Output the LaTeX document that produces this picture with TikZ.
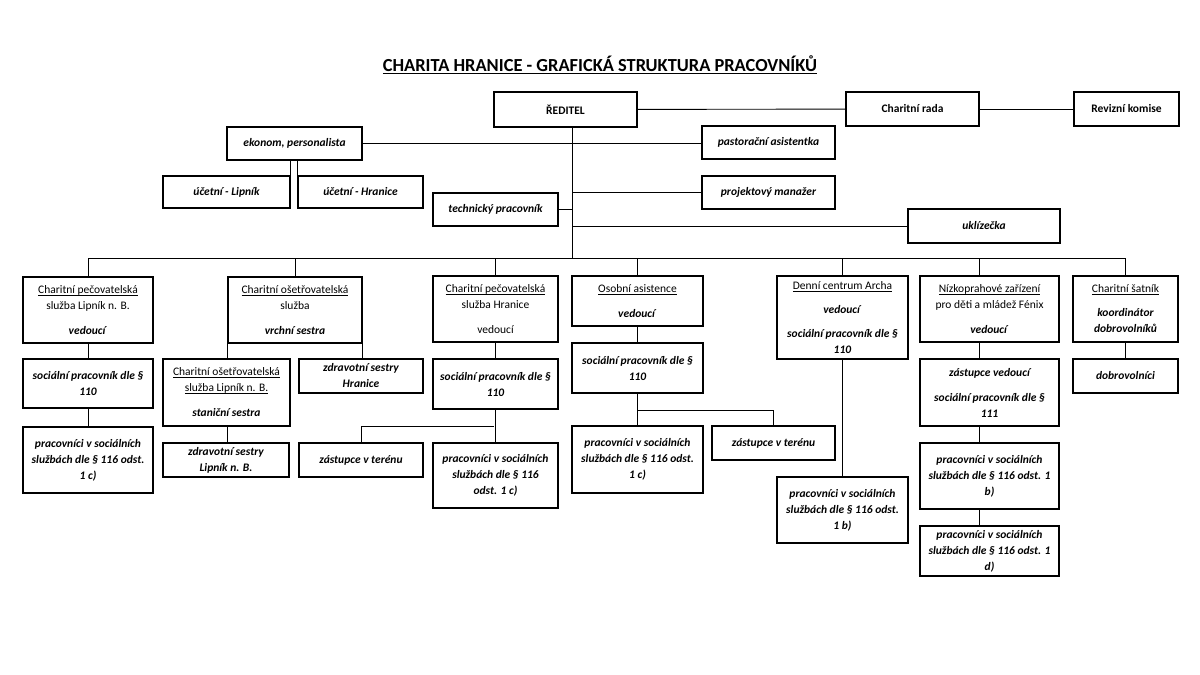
\documentclass[tikz,border=0pt]{standalone}
\usepackage{fontspec}
\setmainfont{Carlito}
\newcommand{\roletext}[1]{\textbf{\textit{#1}}}
\newcommand{\headline}[1]{\setbox0\hbox{#1}\rlap{\rule[-0.16em]{\wd0}{0.055em}}\box0}
\tikzset{
  box/.style={draw, line width=1.3pt, align=center, inner sep=1pt,
    font=\fontsize{11.5}{16}\selectfont},
  role/.style={box, font=\fontsize{11.5}{16}\selectfont\bfseries\itshape},
  wh/.style 2 args={minimum width=#1pt, minimum height=#2pt},
  link/.style={line width=0.9pt},
}
\begin{document}
\begin{tikzpicture}[x=1pt,y=-1pt]
  \useasboundingbox (0,0) rectangle (1200,675);

  \node[font=\fontsize{18.4}{22}\selectfont\bfseries] (title) at (600,65)
    {\headline{CHARITA HRANICE - GRAFICKÁ STRUKTURA PRACOVNÍKŮ}};

  % vedeni
  \node[box, wh={143}{35}] (reditel) at (565.5,109.5) {\textbf{ŘEDITEL}};
  \node[box, wh={133}{34}] (rada)    at (912.5,109)   {\textbf{Charitní rada}};
  \node[box, wh={105}{34}] (revize)  at (1126.5,109)  {\textbf{Revizní komise}};

  \begin{scope}[every node/.style={role}]
    \node[wh={135}{33}] (ekonom)  at (294.5,143.5) {ekonom, personalista};
    \node[wh={133}{33}] (pastor)  at (768.5,142.5) {pastorační asistentka};
    \node[wh={127}{32}] (uctL)    at (226.5,192)   {účetní - Lipník};
    \node[wh={125}{32}] (uctH)    at (360.5,192)   {účetní - Hranice};
    \node[wh={133}{33}] (projekt) at (768.5,192.5) {projektový manažer};
    \node[wh={125}{33}] (tech)    at (495.5,209.5) {technický pracovník};
    \node[wh={152}{34}] (uklid)   at (984,226)     {uklízečka};
  \end{scope}

  % strediska
  \begin{scope}[every node/.style={box}]
    \node[wh={130}{66}] (p1)  at (88,310)
      {\headline{Charitní pečovatelská}\\služba Lipník n. B.\\[9pt]\roletext{vedoucí}};
    \node[wh={134}{66}] (o1)  at (295,310)
      {\headline{Charitní ošetřovatelská}\\služba\\[9pt]\roletext{vrchní sestra}};
    \node[wh={125}{66}] (p2)  at (495.5,309)
      {\headline{Charitní pečovatelská}\\služba Hranice\\[9pt]vedoucí};
    \node[wh={131}{50}] (oa)  at (637.5,301)
      {\headline{Osobní asistence}\\[9pt]\roletext{vedoucí}};
    \node[wh={131}{83}] (dc)  at (842.5,317.5)
      {\headline{Denní centrum Archa}\\[8pt]\roletext{vedoucí}\\[8pt]\roletext{sociální pracovník dle §}\\\roletext{110}};
    \node[wh={139}{66}] (nz)  at (989.5,309)
      {\headline{Nízkoprahové zařízení}\\pro děti a mládež Fénix\\[9pt]\roletext{vedoucí}};
    \node[wh={105}{66}] (sat) at (1125.5,309)
      {\headline{Charitní šatník}\\[8pt]\roletext{koordinátor}\\\roletext{dobrovolníků}};
    \node[wh={127}{67}] (o1L) at (226.5,392.5)
      {\headline{Charitní ošetřovatelská}\\\headline{služba Lipník n. B.}\\[9pt]\roletext{staniční sestra}};
  \end{scope}

  \begin{scope}[every node/.style={role}]
    \node[wh={130}{49}] (p1s)  at (88,383.5)    {sociální pracovník dle §\\110};
    \node[wh={130}{66}] (p1w)  at (88,460)      {pracovníci v sociálních\\službách dle § 116 odst.\\1 c)};
    \node[wh={124}{34}] (o1H)  at (361,376)     {zdravotní sestry\\Hranice};
    \node[wh={126}{34}] (o1Lz) at (226,460)     {zdravotní sestry\\Lipník n. B.};
    \node[wh={124}{34}] (p2z)  at (361,460)     {zástupce v terénu};
    \node[wh={125}{50}] (p2s)  at (495.5,384)   {sociální pracovník dle §\\110};
    \node[wh={125}{65}] (p2w)  at (495.5,475.5) {pracovníci v sociálních\\službách dle § 116\\odst. 1 c)};
    \node[wh={131}{50}] (oas)  at (637.5,368)   {sociální pracovník dle §\\110};
    \node[wh={131}{67}] (oaw)  at (637.5,459.5) {pracovníci v sociálních\\službách dle § 116 odst.\\1 c)};
    \node[wh={123}{34}] (oaz)  at (773.5,443)   {zástupce v terénu};
    \node[wh={131}{66}] (dcw)  at (842.5,510)   {pracovníci v sociálních\\službách dle § 116 odst.\\1 b)};
    \node[wh={139}{67}] (nzs)  at (989.5,392.5) {zástupce vedoucí\\[9pt]sociální pracovník dle §\\111};
    \node[wh={139}{66}] (nzb)  at (989.5,476)   {pracovníci v sociálních\\službách dle § 116 odst. 1\\b)};
    \node[wh={139}{50}] (nzd)  at (989.5,551)   {pracovníci v sociálních\\službách dle § 116 odst. 1\\d)};
    \node[wh={105}{34}] (dob)  at (1125.5,376)  {dobrovolníci};
  \end{scope}

  \coordinate (bus)  at (572,258);
  \coordinate (nzx)  at (979,258);
  \coordinate (oaj)  at (637,410);
  \coordinate (p2j)  at (494,426);

  \begin{scope}[link]
    \draw (reditel) -- (rada);
    \draw (rada) -- (revize);
    \draw (reditel.south -| bus) -- (bus);
    \draw (ekonom.east) -- (ekonom.east -| pastor.west);
    \draw (uctL.north east |- ekonom.south) -- (uctL.north east);
    \draw (uctH.north west |- ekonom.south) -- (uctH.north west);
    \draw (tech.east) -- (tech.east -| bus);
    \draw (projekt.west -| bus) -- (projekt.west);
    \draw (uklid.west -| bus) -- (uklid.west);
    \draw (p1.north |- bus) -- (sat.north |- bus);
    \foreach \n in {p1,o1,p2,oa,dc,sat}
      \draw (\n.north |- bus) -- (\n.north);
    \draw (nzx) -- (nzx |- nz.north);
    % pod strediska
    \draw (p1) -- (p1s);
    \draw (p1s) -- (p1w);
    \draw (o1L.north west -| o1.south west) -- (o1.south west);
    \draw (o1H.north -| o1.south east) -- (o1.south east);
    \draw (o1L.south -| o1.south west) -- (o1Lz.north -| o1.south west);
    \draw (p2) -- (p2s);
    \draw (p2s) -- (p2w);
    \draw (p2j) -| (p2z.north);
    \draw (oa) -- (oas);
    \draw (oas) -- (oaw);
    \draw (oaj) -| (oaz.north);
    \draw (dc) -- (dcw);
    \draw (nzx |- nz.south) -- (nzx |- nzs.north);
    \draw (nzx |- nzs.south) -- (nzx |- nzb.north);
    \draw (nzx |- nzb.south) -- (nzx |- nzd.north);
    \draw (sat) -- (dob);
  \end{scope}
\end{tikzpicture}
\end{document}
